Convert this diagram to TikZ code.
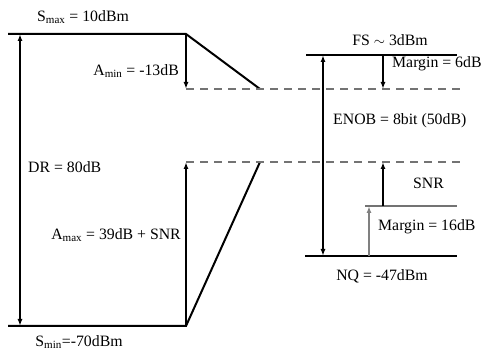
\documentclass[tikz,border=0pt]{standalone}
\usepackage{fontspec}
\setmainfont{Liberation Serif}
\usetikzlibrary{arrows.meta, positioning}

\begin{document}
\begin{tikzpicture}[x=1pt, y=-1pt,
            lvl/.style={line width=2pt, black},
            lvlg/.style={line width=1.6pt, black!55},
            dashln/.style={dash pattern=on 8pt off 6pt, line width=1.2pt, black!55},
            arr/.style={-{Latex[length=7pt, width=5pt]}, line width=1.4pt},
            darr/.style={{Latex[length=7pt, width=5pt]}-{Latex[length=7pt, width=5pt]}, line width=1.4pt},
            garr/.style={arr, black!50},
            lbl/.style={font=\fontsize{15.8}{19}\selectfont, inner sep=1pt}]
          \useasboundingbox (0,0) rectangle (485,352);
          % left side
          \coordinate (smaxl) at (8,34);
          \coordinate (smaxr) at (186,34);
          \coordinate (sminl) at (8,326);
          \coordinate (sminr) at (186,326);
          \coordinate (hi) at (186,89);
          \coordinate (lo) at (186,162);
          \coordinate (hitip) at (260,89);
          \coordinate (lotip) at (260,162);
          \coordinate (dr1) at (20,34);
          \coordinate (dr2) at (20,326);
          \coordinate (hiend) at (463,89);
          \coordinate (loend) at (463,162);
          % right side
          \coordinate (fsl) at (306,55);
          \coordinate (fsr) at (457,55);
          \coordinate (nql) at (305,256);
          \coordinate (nqr) at (457,256);
          \coordinate (mgl) at (365,206);
          \coordinate (mgr) at (457,206);
          \coordinate (en1) at (323,55);
          \coordinate (en2) at (323,256);
          \coordinate (m6a) at (383,55);
          \coordinate (m6b) at (383,89);
          \coordinate (m16a) at (369,256);
          \coordinate (m16b) at (369,206);
          \coordinate (snra) at (383,206);
          \coordinate (snrb) at (383,162);

          \draw[lvl] (smaxl) -- (smaxr) -- (hitip);
          \draw[lvl] (sminl) -- (sminr) -- (lotip);
          \draw[dashln] (hi) -- (hiend);
          \draw[dashln] (lo) -- (loend);
          \draw[darr] (dr1) -- (dr2);
          \draw[arr] (smaxr) -- (hi);
          \draw[arr] (sminr) -- (lo);

          \draw[lvl] (fsl) -- (fsr);
          \draw[lvl] (nql) -- (nqr);
          \draw[lvlg] (mgl) -- (mgr);
          \draw[darr] (en1) -- (en2);
          \draw[arr] (m6a) -- (m6b);
          \draw[garr] (m16a) -- (m16b);
          \draw[arr] (snra) -- (snrb);

          % labels
          \node[lbl] (smax) at (83,17) {S\textsubscript{max} = 10dBm};
          \node[lbl, anchor=east] (amin) at (180,71) {A\textsubscript{min} = -13dB};
          \node[lbl, anchor=west] (dr) at (27,167) {DR = 80dB};
          \node[lbl, anchor=east] (amax) at (182,235) {A\textsubscript{max} = 39dB + SNR};
          \node[lbl] (smin) at (79,342) {S\textsubscript{min}=-70dBm};
          \node[lbl] (fs) at (390,40) {FS $\sim$ 3dBm};
          \node[lbl, anchor=west] (m6) at (391,64) {Margin = 6dB};
          \node[lbl, anchor=west] (enob) at (332,121) {ENOB = 8bit (50dB)};
          \node[lbl, anchor=west] (snr) at (412,183) {SNR};
          \node[lbl, anchor=west] (m16) at (377,227) {Margin = 16dB};
          \node[lbl] (nq) at (382,276) {NQ = -47dBm};
        \end{tikzpicture}
\end{document}
